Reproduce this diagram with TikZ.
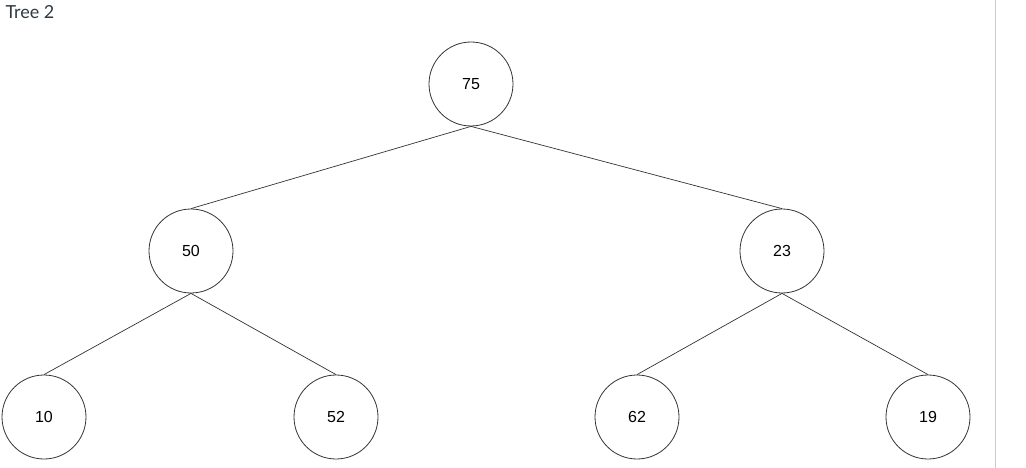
\documentclass[tikz,border=0pt]{standalone}
\usepackage{fontspec}
\setmainfont{Liberation Sans}
\newfontfamily\titlefont{Lato}
\definecolor{titlec}{HTML}{2D3B45}
\definecolor{rulec}{HTML}{C7CDD1}
\begin{document}
\begin{tikzpicture}[x=1pt,y=-1pt,
  tn/.style={circle,draw=black!80,line width=0.8pt,minimum size=84pt,inner sep=0pt,font=\fontsize{16}{18}\selectfont},
  ed/.style={draw=black!80,line width=0.7pt}]
\useasboundingbox (0,0) rectangle (1026,468);
\fill[white] (0,0) rectangle (1026,468);
\draw[rulec,line width=1pt] (995,0) -- (995,468);
\node[anchor=west,text=titlec,font=\titlefont\fontsize{18}{20}\selectfont] (title) at (2,12) {Tree 2};
\node[tn] (n75) at (471,84) {75};
\node[tn] (n50) at (191,251) {50};
\node[tn] (n23) at (782,251) {23};
\node[tn] (n10) at (44,417) {10};
\node[tn] (n52) at (336,417) {52};
\node[tn] (n62) at (637,417) {62};
\node[tn] (n19) at (928,417) {19};
\draw[ed] (n75.south) -- (n50.north);
\draw[ed] (n75.south) -- (n23.north);
\draw[ed] (n50.south) -- (n10.north);
\draw[ed] (n50.south) -- (n52.north);
\draw[ed] (n23.south) -- (n62.north);
\draw[ed] (n23.south) -- (n19.north);
\end{tikzpicture}
\end{document}
